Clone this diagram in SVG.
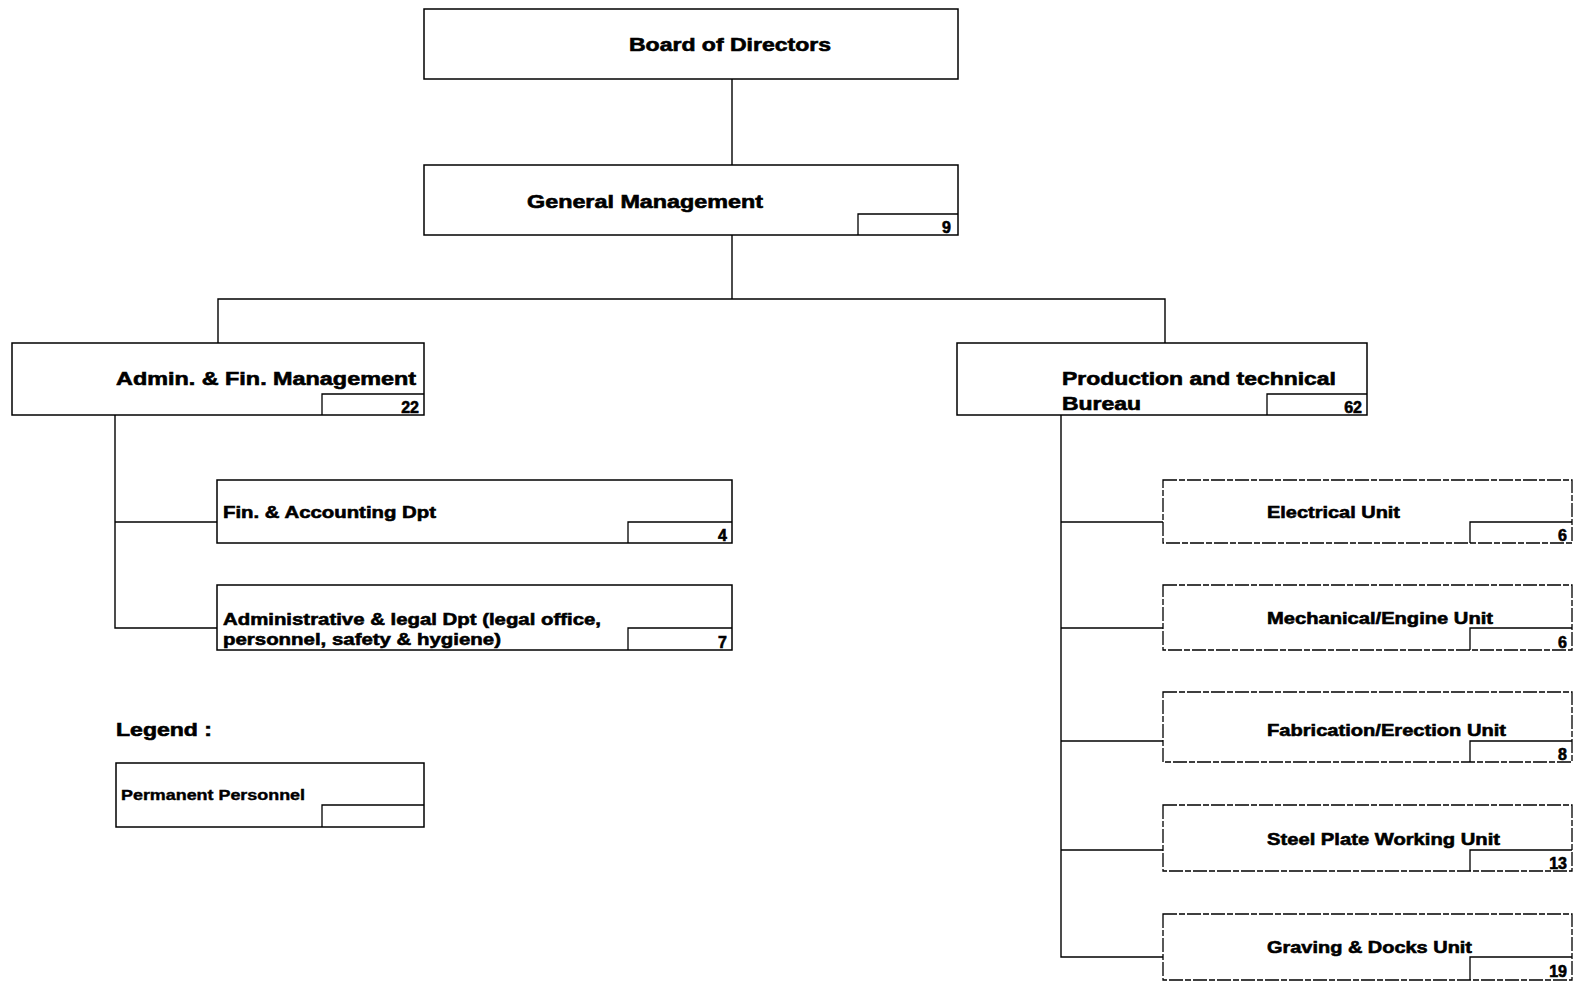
<svg xmlns="http://www.w3.org/2000/svg" width="1580" height="982" viewBox="0 0 1580 982">
<style>
.box{fill:#fff;stroke:#000;stroke-width:1.5}
.sub{fill:none;stroke:#000;stroke-width:1.3}
.unit{fill:#fff;stroke:#000;stroke-width:1.3;stroke-dasharray:14 2 6 2}
.con{fill:none;stroke:#000;stroke-width:1.4}
text{font-family:"Liberation Sans",Arial,Helvetica,sans-serif;font-weight:bold;fill:#000;stroke:#000;stroke-width:0.6}
.t18{font-size:18px}
.t17{font-size:17px}
.t14{font-size:14px;stroke-width:0.4}
.n{font-size:16px;text-anchor:end}
</style>
<rect width="1580" height="982" fill="#fff"/>
<g id="connectors">
<line class="con" x1="732" y1="79" x2="732" y2="165"/>
<line class="con" x1="732" y1="235" x2="732" y2="299"/>
<polyline class="con" points="218,343 218,299 1165,299 1165,343"/>
<polyline class="con" points="115,415 115,628 217,628"/>
<line class="con" x1="115" y1="522" x2="217" y2="522"/>
<polyline class="con" points="1061,415 1061,957 1163,957"/>
<line class="con" x1="1061" y1="522" x2="1163" y2="522"/>
<line class="con" x1="1061" y1="628" x2="1163" y2="628"/>
<line class="con" x1="1061" y1="741" x2="1163" y2="741"/>
<line class="con" x1="1061" y1="850" x2="1163" y2="850"/>
</g>
<g id="board">
<rect class="box" x="424" y="9" width="534" height="70"/>
<text class="t18" x="629" y="51" textLength="202" lengthAdjust="spacingAndGlyphs">Board of Directors</text>
</g>
<g id="general">
<rect class="box" x="424" y="165" width="534" height="70"/>
<text class="t18" x="527" y="208" textLength="236" lengthAdjust="spacingAndGlyphs">General Management</text>
<polyline class="sub" points="858,235 858,214 958,214"/>
<text class="n" x="951" y="233">9</text>
</g>
<g id="admin">
<rect class="box" x="12" y="343" width="412" height="72"/>
<text class="t18" x="116" y="385" textLength="300" lengthAdjust="spacingAndGlyphs">Admin. &amp; Fin. Management</text>
<polyline class="sub" points="322,415 322,394 424,394"/>
<text class="n" x="419" y="413">22</text>
</g>
<g id="production">
<rect class="box" x="957" y="343" width="410" height="72"/>
<text class="t18" x="1062" y="385" textLength="274" lengthAdjust="spacingAndGlyphs">Production and technical</text>
<text class="t18" x="1062" y="410" textLength="79" lengthAdjust="spacingAndGlyphs">Bureau</text>
<polyline class="sub" points="1267,415 1267,394 1367,394"/>
<text class="n" x="1362" y="413">62</text>
</g>
<g id="finacc">
<rect class="box" x="217" y="480" width="515" height="63"/>
<text class="t17" x="223" y="518" textLength="213" lengthAdjust="spacingAndGlyphs">Fin. &amp; Accounting Dpt</text>
<polyline class="sub" points="628,543 628,522 732,522"/>
<text class="n" x="727" y="541">4</text>
</g>
<g id="adminlegal">
<rect class="box" x="217" y="585" width="515" height="65"/>
<text class="t17" x="223" y="625" textLength="378" lengthAdjust="spacingAndGlyphs">Administrative &amp; legal Dpt (legal office,</text>
<text class="t17" x="223" y="645" textLength="278" lengthAdjust="spacingAndGlyphs">personnel, safety &amp; hygiene)</text>
<polyline class="sub" points="628,650 628,628 732,628"/>
<text class="n" x="727" y="648">7</text>
</g>
<g id="legend">
<text class="t18" x="116" y="736" textLength="96" lengthAdjust="spacingAndGlyphs">Legend :</text>
<rect class="box" x="116" y="763" width="308" height="64"/>
<text class="t14" x="121" y="800" textLength="184" lengthAdjust="spacingAndGlyphs">Permanent Personnel</text>
<polyline class="sub" points="322,827 322,805 424,805"/>
</g>
<g id="electrical">
<rect class="unit" x="1163" y="480" width="409" height="63"/>
<text class="t17" x="1267" y="518" textLength="133" lengthAdjust="spacingAndGlyphs">Electrical Unit</text>
<polyline class="sub" points="1470,543 1470,522 1572,522"/>
<text class="n" x="1567" y="541">6</text>
</g>
<g id="mechanical">
<rect class="unit" x="1163" y="585" width="409" height="65"/>
<text class="t17" x="1267" y="624" textLength="226" lengthAdjust="spacingAndGlyphs">Mechanical/Engine Unit</text>
<polyline class="sub" points="1470,650 1470,628 1572,628"/>
<text class="n" x="1567" y="648">6</text>
</g>
<g id="fabrication">
<rect class="unit" x="1163" y="692" width="409" height="70"/>
<text class="t17" x="1267" y="736" textLength="239" lengthAdjust="spacingAndGlyphs">Fabrication/Erection Unit</text>
<polyline class="sub" points="1470,762 1470,741 1572,741"/>
<text class="n" x="1567" y="760">8</text>
</g>
<g id="steel">
<rect class="unit" x="1163" y="805" width="409" height="66"/>
<text class="t17" x="1267" y="845" textLength="233" lengthAdjust="spacingAndGlyphs">Steel Plate Working Unit</text>
<polyline class="sub" points="1470,871 1470,850 1572,850"/>
<text class="n" x="1567" y="869">13</text>
</g>
<g id="graving">
<rect class="unit" x="1163" y="914" width="409" height="66"/>
<text class="t17" x="1267" y="953" textLength="205" lengthAdjust="spacingAndGlyphs">Graving &amp; Docks Unit</text>
<polyline class="sub" points="1470,980 1470,957 1572,957"/>
<text class="n" x="1567" y="977">19</text>
</g>
</svg>
